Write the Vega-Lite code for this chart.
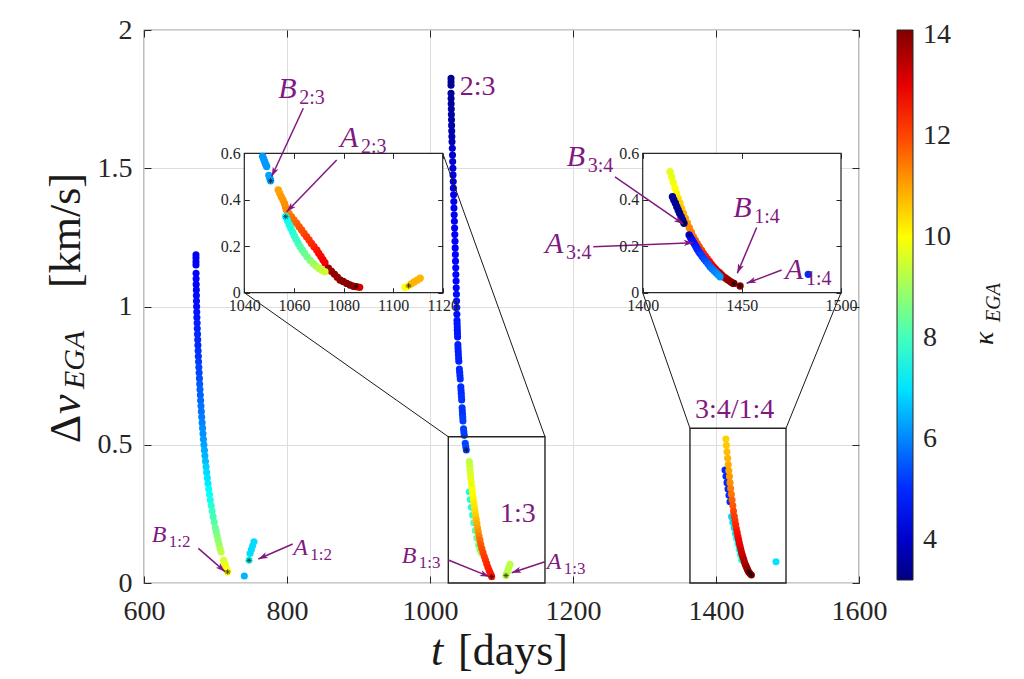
{
"$schema": "https://vega.github.io/schema/vega-lite/v6.json",
"width": 715,
"height": 553,
"autosize": {"type": "none"},
"padding": {"left": 144, "top": 30, "right": 165, "bottom": 96},
"background": "white",
"config": {
  "font": "'Liberation Serif', 'Times New Roman', Tinos, 'DejaVu Serif', serif",
  "view": {"stroke": "#262626", "strokeWidth": 1.2},
  "axis": {"labelFont": "'Liberation Serif', 'Times New Roman', Tinos, 'DejaVu Serif', serif", "labelColor": "#262626", "tickColor": "#262626", "labelFlush": false, "labelOverlap": false, "domain": false},
  "legend": {"labelFont": "'Liberation Serif', 'Times New Roman', Tinos, 'DejaVu Serif', serif", "labelColor": "#262626"},
  "text": {"font": "'Liberation Serif', 'Times New Roman', Tinos, 'DejaVu Serif', serif"}
},
"datasets": {
  "main": [
    {"t":672.7,"dv":1.187,"k":4.5},{"t":672.7,"dv":1.175,"k":4.5},{"t":672.7,"dv":1.162,"k":4.5},{"t":672.7,"dv":1.15,"k":4.5},
    {"t":672.8,"dv":1.12,"k":4.6},{"t":672.9,"dv":1.1,"k":4.6},{"t":673.0,"dv":1.08,"k":4.6},{"t":673.2,"dv":1.06,"k":4.6},{"t":673.3,"dv":1.04,"k":4.7},{"t":673.4,"dv":1.02,"k":4.7},{"t":673.6,"dv":1.0,"k":4.7},{"t":673.8,"dv":0.98,"k":4.8},{"t":674.0,"dv":0.96,"k":4.8},{"t":674.3,"dv":0.94,"k":4.9},{"t":674.5,"dv":0.92,"k":4.9},{"t":674.8,"dv":0.9,"k":5.0},{"t":675.1,"dv":0.88,"k":5.0},{"t":675.4,"dv":0.86,"k":5.0},{"t":675.7,"dv":0.84,"k":5.1},{"t":676.0,"dv":0.82,"k":5.1},{"t":676.3,"dv":0.8,"k":5.2},{"t":676.7,"dv":0.78,"k":5.3},{"t":677.1,"dv":0.76,"k":5.3},{"t":677.5,"dv":0.74,"k":5.4},{"t":677.9,"dv":0.72,"k":5.5},{"t":678.3,"dv":0.7,"k":5.6},{"t":678.8,"dv":0.68,"k":5.6},{"t":679.2,"dv":0.66,"k":5.7},{"t":679.7,"dv":0.64,"k":5.8},{"t":680.2,"dv":0.62,"k":5.8},{"t":680.7,"dv":0.6,"k":5.9},{"t":681.3,"dv":0.58,"k":6.0},{"t":681.9,"dv":0.56,"k":6.1},{"t":682.5,"dv":0.54,"k":6.1},{"t":683.1,"dv":0.52,"k":6.2},{"t":683.8,"dv":0.5,"k":6.3},{"t":684.5,"dv":0.48,"k":6.4},{"t":685.2,"dv":0.46,"k":6.5},{"t":686.0,"dv":0.44,"k":6.6},{"t":686.8,"dv":0.42,"k":6.8},{"t":687.6,"dv":0.4,"k":6.9},{"t":688.6,"dv":0.38,"k":7.0},{"t":689.5,"dv":0.36,"k":7.1},{"t":690.5,"dv":0.34,"k":7.3},{"t":691.6,"dv":0.32,"k":7.4},{"t":692.7,"dv":0.3,"k":7.5},{"t":694.0,"dv":0.28,"k":7.7},{"t":695.3,"dv":0.26,"k":7.9},{"t":696.7,"dv":0.24,"k":8.0},{"t":698.2,"dv":0.22,"k":8.2},{"t":699.8,"dv":0.2,"k":8.4},{"t":701.0,"dv":0.185,"k":8.5},{"t":702.3,"dv":0.17,"k":8.7},{"t":703.5,"dv":0.155,"k":8.8},{"t":705.0,"dv":0.14,"k":8.9},{"t":706.3,"dv":0.126,"k":9.1},{"t":707.8,"dv":0.112,"k":9.3},
    {"t":711.3,"dv":0.082,"k":9.6},{"t":712.7,"dv":0.071,"k":9.7},{"t":714.1,"dv":0.061,"k":9.8},{"t":715.6,"dv":0.05,"k":9.9},{"t":717.0,"dv":0.04,"k":10.0},
    {"t":753.8,"dv":0.149,"k":6.9},{"t":752.0,"dv":0.135,"k":6.9},{"t":750.2,"dv":0.121,"k":6.9},{"t":748.3,"dv":0.107,"k":6.9},{"t":746.9,"dv":0.082,"k":7.4},{"t":740.3,"dv":0.025,"k":6.5},
    {"t":1029.4,"dv":1.825,"k":3.4},{"t":1029.4,"dv":1.812,"k":3.4},{"t":1029.4,"dv":1.8,"k":3.4},
    {"t":1029.4,"dv":1.771,"k":3.5},{"t":1029.5,"dv":1.752,"k":3.5},{"t":1029.6,"dv":1.733,"k":3.5},{"t":1029.8,"dv":1.714,"k":3.6},{"t":1029.9,"dv":1.694,"k":3.6},{"t":1030.1,"dv":1.675,"k":3.6},{"t":1030.2,"dv":1.655,"k":3.7},{"t":1030.4,"dv":1.635,"k":3.7},{"t":1030.6,"dv":1.615,"k":3.7},{"t":1030.8,"dv":1.596,"k":3.8},
    {"t":1031.2,"dv":1.572,"k":4.0},{"t":1031.5,"dv":1.548,"k":4.0},{"t":1031.7,"dv":1.524,"k":4.1},{"t":1032.0,"dv":1.5,"k":4.1},{"t":1032.2,"dv":1.476,"k":4.2},{"t":1032.5,"dv":1.452,"k":4.2},{"t":1032.7,"dv":1.428,"k":4.2},{"t":1033.0,"dv":1.404,"k":4.3},{"t":1033.3,"dv":1.38,"k":4.3},{"t":1033.5,"dv":1.356,"k":4.4},{"t":1033.8,"dv":1.332,"k":4.4},{"t":1034.1,"dv":1.308,"k":4.4},{"t":1034.4,"dv":1.284,"k":4.5},{"t":1034.7,"dv":1.26,"k":4.5},{"t":1035.0,"dv":1.236,"k":4.5},{"t":1035.2,"dv":1.212,"k":4.5},{"t":1035.5,"dv":1.188,"k":4.6},{"t":1035.7,"dv":1.164,"k":4.6},{"t":1036.0,"dv":1.14,"k":4.6},{"t":1036.2,"dv":1.116,"k":4.6},{"t":1036.5,"dv":1.092,"k":4.6},{"t":1036.7,"dv":1.068,"k":4.6},{"t":1037.0,"dv":1.044,"k":4.7},{"t":1037.2,"dv":1.02,"k":4.7},{"t":1037.4,"dv":0.996,"k":4.7},{"t":1037.6,"dv":0.972,"k":4.7},
    {"t":1037.8,"dv":0.95,"k":4.8},{"t":1037.9,"dv":0.938,"k":4.8},{"t":1038.1,"dv":0.926,"k":4.8},{"t":1038.2,"dv":0.914,"k":4.8},{"t":1038.4,"dv":0.902,"k":4.8},{"t":1038.6,"dv":0.89,"k":4.8},
    {"t":1039.0,"dv":0.862,"k":4.9},{"t":1039.2,"dv":0.85,"k":4.9},{"t":1039.4,"dv":0.838,"k":4.9},{"t":1039.7,"dv":0.826,"k":4.9},{"t":1040.0,"dv":0.814,"k":4.9},{"t":1040.3,"dv":0.802,"k":4.9},
    {"t":1041.1,"dv":0.774,"k":5.0},{"t":1041.5,"dv":0.762,"k":5.0},{"t":1041.9,"dv":0.75,"k":5.0},{"t":1042.3,"dv":0.738,"k":5.0},
    {"t":1043.1,"dv":0.71,"k":5.0},{"t":1043.4,"dv":0.698,"k":5.0},{"t":1043.7,"dv":0.686,"k":5.0},{"t":1044.0,"dv":0.674,"k":5.1},{"t":1044.3,"dv":0.662,"k":5.1},
    {"t":1044.9,"dv":0.634,"k":5.1},{"t":1045.2,"dv":0.622,"k":5.1},{"t":1045.5,"dv":0.61,"k":5.1},{"t":1045.8,"dv":0.598,"k":5.2},{"t":1046.1,"dv":0.586,"k":5.2},
    {"t":1046.9,"dv":0.558,"k":5.2},{"t":1047.4,"dv":0.546,"k":5.2},{"t":1047.9,"dv":0.534,"k":5.2},
    {"t":1049.3,"dv":0.505,"k":5.3},{"t":1050.0,"dv":0.493,"k":5.3},{"t":1050.8,"dv":0.481,"k":5.3},
    {"t":1055.0,"dv":0.33,"k":7.4},{"t":1056.4,"dv":0.302,"k":7.5},{"t":1057.9,"dv":0.274,"k":7.6},{"t":1059.5,"dv":0.246,"k":7.8},{"t":1061.3,"dv":0.218,"k":8.0},{"t":1063.3,"dv":0.19,"k":8.2},{"t":1065.5,"dv":0.163,"k":8.4},{"t":1067.9,"dv":0.137,"k":8.6},{"t":1070.0,"dv":0.12,"k":8.8},{"t":1072.3,"dv":0.108,"k":9.0},
    {"t":1055.0,"dv":0.439,"k":9.3},{"t":1055.5,"dv":0.425,"k":9.4},{"t":1056.0,"dv":0.41,"k":9.5},{"t":1056.5,"dv":0.395,"k":9.6},{"t":1057.1,"dv":0.38,"k":9.7},{"t":1057.7,"dv":0.365,"k":9.8},{"t":1058.3,"dv":0.35,"k":9.9},{"t":1059.0,"dv":0.335,"k":10.0},{"t":1059.7,"dv":0.32,"k":10.0},{"t":1060.5,"dv":0.305,"k":10.1},{"t":1061.3,"dv":0.29,"k":10.2},{"t":1062.1,"dv":0.275,"k":10.3},{"t":1062.9,"dv":0.26,"k":10.4},{"t":1063.8,"dv":0.245,"k":10.5},{"t":1064.7,"dv":0.23,"k":10.7},{"t":1065.6,"dv":0.215,"k":10.9},{"t":1066.5,"dv":0.2,"k":11.0},{"t":1067.5,"dv":0.185,"k":11.2},{"t":1068.6,"dv":0.17,"k":11.4},{"t":1069.8,"dv":0.155,"k":11.6},{"t":1071.0,"dv":0.14,"k":11.8},{"t":1072.5,"dv":0.125,"k":11.9},{"t":1074.2,"dv":0.11,"k":12.0},{"t":1075.9,"dv":0.096,"k":12.1},{"t":1077.6,"dv":0.083,"k":12.2},{"t":1079.3,"dv":0.07,"k":12.3},{"t":1080.9,"dv":0.058,"k":12.4},{"t":1082.5,"dv":0.047,"k":12.4},{"t":1084.1,"dv":0.037,"k":12.5},{"t":1085.4,"dv":0.029,"k":12.5},{"t":1086.3,"dv":0.023,"k":12.5},
    {"t":1106.3,"dv":0.027,"k":9.3},{"t":1107.7,"dv":0.037,"k":9.3},{"t":1109.1,"dv":0.047,"k":9.3},{"t":1110.5,"dv":0.058,"k":9.3},{"t":1111.9,"dv":0.068,"k":9.3},
    {"t":1412.6,"dv":0.409,"k":5.0},{"t":1414.0,"dv":0.386,"k":5.0},{"t":1415.4,"dv":0.363,"k":5.0},{"t":1416.8,"dv":0.34,"k":5.0},{"t":1418.2,"dv":0.317,"k":5.0},{"t":1419.6,"dv":0.294,"k":5.0},
    {"t":1421.9,"dv":0.24,"k":6.8},{"t":1423.6,"dv":0.22,"k":6.9},{"t":1425.4,"dv":0.2,"k":7.0},{"t":1427.1,"dv":0.18,"k":7.1},{"t":1428.9,"dv":0.161,"k":7.2},{"t":1430.7,"dv":0.142,"k":7.3},{"t":1432.4,"dv":0.122,"k":7.4},{"t":1434.2,"dv":0.102,"k":7.5},{"t":1435.9,"dv":0.083,"k":7.6},
    {"t":1413.8,"dv":0.521,"k":10.5},{"t":1414.6,"dv":0.498,"k":10.6},{"t":1415.4,"dv":0.475,"k":10.7},{"t":1416.3,"dv":0.451,"k":10.8},{"t":1417.1,"dv":0.428,"k":10.9},{"t":1417.9,"dv":0.406,"k":11.0},{"t":1418.8,"dv":0.385,"k":11.1},{"t":1419.6,"dv":0.363,"k":11.2},{"t":1420.5,"dv":0.342,"k":11.4},{"t":1421.5,"dv":0.321,"k":11.5},{"t":1422.5,"dv":0.3,"k":11.7},{"t":1423.5,"dv":0.28,"k":11.8},{"t":1424.5,"dv":0.26,"k":12.0},{"t":1425.5,"dv":0.241,"k":12.1},{"t":1426.5,"dv":0.226,"k":12.2},{"t":1427.5,"dv":0.211,"k":12.3},{"t":1428.5,"dv":0.197,"k":12.4},{"t":1429.6,"dv":0.183,"k":12.6},{"t":1430.6,"dv":0.169,"k":12.7},{"t":1431.6,"dv":0.157,"k":12.8},{"t":1432.6,"dv":0.145,"k":12.9},{"t":1433.6,"dv":0.134,"k":13.0},{"t":1434.6,"dv":0.123,"k":13.1},{"t":1435.6,"dv":0.112,"k":13.2},{"t":1436.6,"dv":0.103,"k":13.3},{"t":1437.6,"dv":0.094,"k":13.4},{"t":1438.7,"dv":0.086,"k":13.5},{"t":1439.7,"dv":0.077,"k":13.5},{"t":1440.7,"dv":0.069,"k":13.6},{"t":1441.7,"dv":0.063,"k":13.7},{"t":1442.7,"dv":0.057,"k":13.8},{"t":1443.7,"dv":0.051,"k":13.9},{"t":1444.7,"dv":0.045,"k":13.9},{"t":1445.7,"dv":0.04,"k":14.0},{"t":1447.5,"dv":0.034,"k":14.0},{"t":1449.5,"dv":0.029,"k":14.0},
    {"t":1483.9,"dv":0.077,"k":7.0}
  ],
  "starsMain": [
    {"t":717.0,"dv":0.04},{"t":746.9,"dv":0.082},{"t":1050.8,"dv":0.481},{"t":1086.3,"dv":0.023},{"t":1106.3,"dv":0.027},{"t":1446.0,"dv":0.04},{"t":1449.5,"dv":0.029}
  ],
  "zoomA": [
    {"t":1047.4,"dv":0.586,"k":6.2},{"t":1047.8,"dv":0.575,"k":6.2},{"t":1048.2,"dv":0.564,"k":6.2},{"t":1048.6,"dv":0.553,"k":6.2},{"t":1049.0,"dv":0.543,"k":6.2},{"t":1049.9,"dv":0.505,"k":6.3},{"t":1050.3,"dv":0.493,"k":6.3},{"t":1050.6,"dv":0.482,"k":6.3},
    {"t":1053.7,"dv":0.442,"k":11.0},{"t":1054.3,"dv":0.428,"k":11.0},{"t":1054.9,"dv":0.413,"k":11.1},{"t":1055.6,"dv":0.399,"k":11.1},{"t":1056.2,"dv":0.384,"k":11.2},{"t":1056.6,"dv":0.37,"k":11.2},{"t":1057.0,"dv":0.356,"k":11.3},{"t":1058.0,"dv":0.341,"k":11.4},{"t":1059.0,"dv":0.327,"k":11.5},{"t":1060.0,"dv":0.313,"k":11.6},{"t":1061.1,"dv":0.299,"k":11.7},{"t":1062.1,"dv":0.284,"k":11.8},{"t":1063.1,"dv":0.27,"k":11.9},{"t":1064.1,"dv":0.255,"k":12.0},{"t":1065.1,"dv":0.241,"k":12.1},{"t":1066.1,"dv":0.227,"k":12.2},{"t":1067.1,"dv":0.212,"k":12.3},{"t":1068.1,"dv":0.198,"k":12.4},{"t":1069.2,"dv":0.184,"k":12.5},{"t":1070.0,"dv":0.17,"k":12.6},{"t":1070.9,"dv":0.156,"k":12.7},{"t":1071.7,"dv":0.142,"k":12.8},{"t":1072.5,"dv":0.129,"k":12.9},
    {"t":1073.9,"dv":0.105,"k":13.8},{"t":1075.1,"dv":0.092,"k":13.8},{"t":1076.3,"dv":0.08,"k":13.9},{"t":1077.5,"dv":0.067,"k":13.9},{"t":1078.6,"dv":0.055,"k":13.9},{"t":1079.9,"dv":0.048,"k":14.0},{"t":1081.3,"dv":0.04,"k":14.0},{"t":1082.6,"dv":0.033,"k":14.0},{"t":1084.0,"dv":0.028,"k":14.0},{"t":1085.3,"dv":0.026,"k":13.8},{"t":1086.5,"dv":0.023,"k":13.2},
    {"t":1056.7,"dv":0.327,"k":7.3},{"t":1057.4,"dv":0.31,"k":7.4},{"t":1058.1,"dv":0.293,"k":7.5},{"t":1058.8,"dv":0.276,"k":7.6},{"t":1059.5,"dv":0.26,"k":7.7},{"t":1060.2,"dv":0.244,"k":7.8},{"t":1060.9,"dv":0.229,"k":7.9},{"t":1061.7,"dv":0.213,"k":8.0},{"t":1062.5,"dv":0.198,"k":8.1},{"t":1063.4,"dv":0.184,"k":8.3},{"t":1064.3,"dv":0.17,"k":8.4},{"t":1065.3,"dv":0.155,"k":8.5},{"t":1066.5,"dv":0.14,"k":8.7},{"t":1067.8,"dv":0.126,"k":8.9},{"t":1068.9,"dv":0.115,"k":9.1},{"t":1070.0,"dv":0.105,"k":9.2},{"t":1071.3,"dv":0.097,"k":9.4},{"t":1072.5,"dv":0.09,"k":9.5},
    {"t":1104.8,"dv":0.023,"k":10.0},{"t":1106.2,"dv":0.029,"k":10.0},{"t":1107.3,"dv":0.038,"k":10.8},{"t":1108.5,"dv":0.046,"k":10.8},{"t":1109.7,"dv":0.054,"k":10.8},{"t":1110.9,"dv":0.062,"k":10.8}
  ],
  "starsA": [
    {"t":1050.6,"dv":0.482},{"t":1056.7,"dv":0.327},{"t":1085.3,"dv":0.026},{"t":1106.2,"dv":0.029}
  ],
  "zoomB": [
    {"t":1413.8,"dv":0.521,"k":9.7},{"t":1414.6,"dv":0.498,"k":9.8},{"t":1415.4,"dv":0.475,"k":9.9},{"t":1416.3,"dv":0.451,"k":10.0},{"t":1417.1,"dv":0.428,"k":10.1},{"t":1417.9,"dv":0.406,"k":10.3},{"t":1418.8,"dv":0.385,"k":10.5},{"t":1419.6,"dv":0.363,"k":10.6},{"t":1420.5,"dv":0.342,"k":10.8},{"t":1421.5,"dv":0.321,"k":11.0},{"t":1422.5,"dv":0.3,"k":11.1},{"t":1423.5,"dv":0.28,"k":11.3},{"t":1424.5,"dv":0.26,"k":11.4},{"t":1425.5,"dv":0.241,"k":11.5},{"t":1426.5,"dv":0.226,"k":11.7},{"t":1427.5,"dv":0.211,"k":11.8},{"t":1428.5,"dv":0.197,"k":12.0},{"t":1429.6,"dv":0.183,"k":12.1},{"t":1430.6,"dv":0.169,"k":12.3},{"t":1431.6,"dv":0.157,"k":12.4},{"t":1432.6,"dv":0.145,"k":12.5},{"t":1433.6,"dv":0.134,"k":12.7},{"t":1434.6,"dv":0.123,"k":12.8},{"t":1435.6,"dv":0.112,"k":13.0},{"t":1436.6,"dv":0.103,"k":13.1},{"t":1437.6,"dv":0.094,"k":13.2},{"t":1438.7,"dv":0.086,"k":13.4},{"t":1439.7,"dv":0.077,"k":13.5},{"t":1440.7,"dv":0.069,"k":13.6},{"t":1441.7,"dv":0.063,"k":13.7},{"t":1442.7,"dv":0.057,"k":13.8},{"t":1443.7,"dv":0.051,"k":13.9},{"t":1444.7,"dv":0.045,"k":14.0},{"t":1445.7,"dv":0.04,"k":14.0},
    {"t":1415.0,"dv":0.413,"k":3.4},{"t":1415.7,"dv":0.399,"k":3.4},{"t":1416.5,"dv":0.385,"k":3.4},{"t":1417.2,"dv":0.37,"k":3.4},{"t":1417.9,"dv":0.356,"k":3.4},{"t":1418.6,"dv":0.342,"k":3.4},{"t":1419.4,"dv":0.327,"k":3.4},{"t":1420.1,"dv":0.313,"k":3.4},{"t":1420.8,"dv":0.299,"k":3.4},
    {"t":1423.4,"dv":0.248,"k":4.5},{"t":1424.1,"dv":0.238,"k":4.6},{"t":1424.8,"dv":0.228,"k":4.6},{"t":1425.5,"dv":0.218,"k":4.7},{"t":1426.2,"dv":0.208,"k":4.7},{"t":1426.9,"dv":0.198,"k":4.8},{"t":1427.5,"dv":0.188,"k":4.9},{"t":1428.2,"dv":0.178,"k":5.0},{"t":1428.9,"dv":0.169,"k":5.1},{"t":1429.9,"dv":0.157,"k":5.2},{"t":1430.9,"dv":0.146,"k":5.3},{"t":1431.9,"dv":0.135,"k":5.4},{"t":1433.0,"dv":0.123,"k":5.6},{"t":1434.0,"dv":0.112,"k":5.7},{"t":1435.0,"dv":0.103,"k":5.8},{"t":1436.0,"dv":0.094,"k":5.9},{"t":1437.0,"dv":0.086,"k":6.0},{"t":1438.0,"dv":0.077,"k":6.1},{"t":1439.0,"dv":0.069,"k":6.2},
    {"t":1446.0,"dv":0.04,"k":14.0},{"t":1449.1,"dv":0.029,"k":13.9},
    {"t":1483.5,"dv":0.079,"k":5.0}
  ],
  "starsB": [
    {"t":1420.8,"dv":0.299},{"t":1423.4,"dv":0.248},{"t":1446.0,"dv":0.04},{"t":1449.1,"dv":0.029}
  ],
  "links": [
    {"t1":740.3,"v1":1.05,"t2":1025.6,"v2":0.529},
    {"t1":1017.8,"v1":1.554,"t2":1160.8,"v2":0.529},
    {"t1":1297.5,"v1":1.05,"t2":1363.6,"v2":0.5595},
    {"t1":1574.8,"v1":1.05,"t2":1497.9,"v2":0.5595}
  ],
  "boxes": [
    {"t1":1025.6,"v1":0,"t2":1160.8,"v2":0.529},
    {"t1":1363.6,"v1":0,"t2":1497.9,"v2":0.5595}
  ],
  "arrows": [
    {"t1":676.0,"v1":0.125,"t2":713.3,"v2":0.041,"ang":131},
    {"t1":808.0,"v1":0.141,"t2":759.9,"v2":0.087,"ang":246},
    {"t1":1025.6,"v1":0.083,"t2":1083.0,"v2":0.023,"ang":112},
    {"t1":1160.8,"v1":0.077,"t2":1114.3,"v2":0.037,"ang":252},
    {"t1":822.8,"v1":1.717,"t2":778.6,"v2":1.47,"ang":205},
    {"t1":869.5,"v1":1.53,"t2":799.6,"v2":1.343,"ang":224},
    {"t1":1258.7,"v1":1.469,"t2":1354.3,"v2":1.298,"ang":125},
    {"t1":1228.4,"v1":1.216,"t2":1368.3,"v2":1.231,"ang":88},
    {"t1":1456.9,"v1":1.286,"t2":1429.8,"v2":1.12,"ang":203},
    {"t1":1491.8,"v1":1.132,"t2":1442.9,"v2":1.084,"ang":249}
  ],
  "lblLg": [
    {"t":787.8,"dv":1.753,"m":"B","s":"2:3"},
    {"t":874.1,"dv":1.578,"m":"A","s":"2:3"},
    {"t":1191.2,"dv":1.508,"m":"B","s":"3:4"},
    {"t":1160.8,"dv":1.192,"m":"A","s":"3:4"},
    {"t":1424.2,"dv":1.325,"m":"B","s":"1:4"},
    {"t":1496.5,"dv":1.098,"m":"A","s":"1:4"}
  ],
  "lblSm": [
    {"t":610.8,"dv":0.149,"m":"B","s":"1:2"},
    {"t":808.8,"dv":0.101,"m":"A","s":"1:2"},
    {"t":960.4,"dv":0.073,"m":"B","s":"1:3"},
    {"t":1163.2,"dv":0.05,"m":"A","s":"1:3"}
  ],
  "tags": [
    {"t":1041.7,"dv":1.765,"s":"2:3"},
    {"t":1097.9,"dv":0.221,"s":"1:3"},
    {"t":1370.6,"dv":0.597,"s":"3:4/1:4"}
  ]
},
"resolve": {"scale": {"x": "independent", "y": "independent"}, "axis": {"x": "independent", "y": "independent"}},
"layer": [
  {
    "resolve": {"axis": {"x": "independent", "y": "independent"}},
    "layer": [
      {
        "data": {"name": "main"},
        "mark": {"type": "point", "shape": "circle", "filled": true, "size": 50, "opacity": 1, "strokeWidth": 0},
        "encoding": {
          "x": {"field": "t", "type": "quantitative", "scale": {"domain": [600, 1600], "nice": false, "zero": false},
                "axis": {"orient": "bottom", "values": [600, 800, 1000, 1200, 1400, 1600], "format": "d", "grid": true, "gridColor": "#dedede", "gridWidth": 1, "tickSize": -7, "labelFontSize": 28, "labelPadding": 21, "title": null}},
          "y": {"field": "dv", "type": "quantitative", "scale": {"domain": [0, 2], "nice": false, "zero": false},
                "axis": {"orient": "left", "values": [0, 0.5, 1, 1.5, 2], "format": "~g", "grid": true, "gridColor": "#dedede", "gridWidth": 1, "tickSize": -7, "labelFontSize": 28, "labelPadding": 19, "title": null}},
          "color": {"field": "k", "type": "quantitative",
                    "scale": {"type": "linear", "domain": [3.2, 4.5625, 7.2875, 10.0125, 12.7375, 14.1], "range": ["#000080", "#0000ff", "#00ffff", "#ffff00", "#ff0000", "#800000"], "interpolate": "rgb", "clamp": true},
                    "legend": {"orient": "none", "legendX": 753, "legendY": 0, "direction": "vertical", "gradientLength": 550, "gradientThickness": 16, "title": null, "values": [4, 6, 8, 10, 12, 14], "labelFontSize": 28, "labelOffset": 10, "gradientStrokeColor": "#262626", "gradientStrokeWidth": 1, "padding": 0}}
        }
      },
      {
        "data": {"name": "starsMain"},
        "mark": {"type": "point", "shape": "M-1,0L1,0M0,-1L0,1M-0.7,-0.7L0.7,0.7M-0.7,0.7L0.7,-0.7", "filled": false, "color": "#000000", "size": 30, "strokeWidth": 0.9},
        "encoding": {
          "x": {"field": "t", "type": "quantitative", "scale": {"domain": [600, 1600], "nice": false, "zero": false},
                "axis": {"orient": "top", "values": [600, 800, 1000, 1200, 1400, 1600], "labels": false, "grid": false, "tickSize": -7, "title": null}},
          "y": {"field": "dv", "type": "quantitative", "scale": {"domain": [0, 2], "nice": false, "zero": false},
                "axis": {"orient": "right", "values": [0, 0.5, 1, 1.5, 2], "labels": false, "grid": false, "tickSize": -7, "title": null}}
        }
      },
      {
        "data": {"name": "links"},
        "mark": {"type": "rule", "color": "#1a1a1a", "strokeWidth": 1},
        "encoding": {
          "x": {"field": "t1", "type": "quantitative", "scale": {"domain": [600, 1600], "nice": false, "zero": false}, "axis": null},
          "y": {"field": "v1", "type": "quantitative", "scale": {"domain": [0, 2], "nice": false, "zero": false}, "axis": null},
          "x2": {"field": "t2"},
          "y2": {"field": "v2"}
        }
      },
      {
        "data": {"name": "boxes"},
        "mark": {"type": "rect", "filled": false, "color": "#262626", "strokeWidth": 1.4},
        "encoding": {
          "x": {"field": "t1", "type": "quantitative", "scale": {"domain": [600, 1600], "nice": false, "zero": false}, "axis": null},
          "y": {"field": "v1", "type": "quantitative", "scale": {"domain": [0, 2], "nice": false, "zero": false}, "axis": null},
          "x2": {"field": "t2"},
          "y2": {"field": "v2"}
        }
      }
    ]
  },
  {
    "resolve": {"axis": {"x": "independent", "y": "independent"}},
    "layer": [
      {
        "data": {"values": [{}]},
        "mark": {"type": "rect", "fill": "white", "stroke": "#262626", "strokeWidth": 1.2},
        "encoding": {
          "x": {"datum": 1040, "type": "quantitative", "scale": {"domain": [1040, 1120], "range": [100.3, 298.7], "nice": false, "zero": false},
                "axis": {"orient": "bottom", "offset": -290.3, "values": [1040, 1060, 1080, 1100, 1120], "format": "d", "grid": false, "tickSize": -5, "labelFontSize": 16, "labelPadding": 10, "title": null, "zindex": 1}},
          "x2": {"datum": 1120},
          "y": {"datum": 0, "type": "quantitative", "scale": {"domain": [0, 0.6], "range": [262.7, 123.3], "nice": false, "zero": false},
                "axis": {"orient": "left", "offset": -100.3, "values": [0, 0.2, 0.4, 0.6], "format": "~g", "grid": false, "tickSize": -5, "labelFontSize": 16, "labelPadding": 9, "title": null, "zindex": 1}},
          "y2": {"datum": 0.6}
        }
      },
      {
        "data": {"name": "zoomA"},
        "mark": {"type": "point", "shape": "circle", "filled": true, "size": 55, "opacity": 1, "strokeWidth": 0},
        "encoding": {
          "x": {"field": "t", "type": "quantitative", "scale": {"domain": [1040, 1120], "range": [100.3, 298.7], "nice": false, "zero": false},
                "axis": {"orient": "top", "offset": -123.3, "values": [1040, 1060, 1080, 1100, 1120], "labels": false, "grid": false, "tickSize": -5, "title": null, "zindex": 1}},
          "y": {"field": "dv", "type": "quantitative", "scale": {"domain": [0, 0.6], "range": [262.7, 123.3], "nice": false, "zero": false},
                "axis": {"orient": "right", "offset": -416.3, "values": [0, 0.2, 0.4, 0.6], "labels": false, "grid": false, "tickSize": -5, "title": null, "zindex": 1}},
          "color": {"field": "k", "type": "quantitative",
                    "scale": {"type": "linear", "domain": [3.2, 4.5625, 7.2875, 10.0125, 12.7375, 14.1], "range": ["#000080", "#0000ff", "#00ffff", "#ffff00", "#ff0000", "#800000"], "interpolate": "rgb", "clamp": true},
                    "legend": {"orient": "none", "legendX": 753, "legendY": 0, "direction": "vertical", "gradientLength": 550, "gradientThickness": 16, "title": null, "values": [4, 6, 8, 10, 12, 14], "labelFontSize": 28, "labelOffset": 10, "gradientStrokeColor": "#262626", "gradientStrokeWidth": 1, "padding": 0}}
        }
      },
      {
        "data": {"name": "starsA"},
        "mark": {"type": "point", "shape": "M-1,0L1,0M0,-1L0,1M-0.7,-0.7L0.7,0.7M-0.7,0.7L0.7,-0.7", "filled": false, "color": "#000000", "size": 30, "strokeWidth": 0.9},
        "encoding": {
          "x": {"field": "t", "type": "quantitative", "scale": {"domain": [1040, 1120], "range": [100.3, 298.7], "nice": false, "zero": false}, "axis": null},
          "y": {"field": "dv", "type": "quantitative", "scale": {"domain": [0, 0.6], "range": [262.7, 123.3], "nice": false, "zero": false}, "axis": null}
        }
      }
    ]
  },
  {
    "resolve": {"axis": {"x": "independent", "y": "independent"}},
    "layer": [
      {
        "data": {"values": [{}]},
        "mark": {"type": "rect", "fill": "white", "stroke": "#262626", "strokeWidth": 1.2},
        "encoding": {
          "x": {"datum": 1400, "type": "quantitative", "scale": {"domain": [1400, 1500], "range": [498.7, 697], "nice": false, "zero": false},
                "axis": {"orient": "bottom", "offset": -290.3, "values": [1400, 1450, 1500], "format": "d", "grid": false, "tickSize": -5, "labelFontSize": 16, "labelPadding": 10, "title": null, "zindex": 1}},
          "x2": {"datum": 1500},
          "y": {"datum": 0, "type": "quantitative", "scale": {"domain": [0, 0.6], "range": [262.7, 123.3], "nice": false, "zero": false},
                "axis": {"orient": "left", "offset": -498.7, "values": [0, 0.2, 0.4, 0.6], "format": "~g", "grid": false, "tickSize": -5, "labelFontSize": 16, "labelPadding": 9, "title": null, "zindex": 1}},
          "y2": {"datum": 0.6}
        }
      },
      {
        "data": {"name": "zoomB"},
        "mark": {"type": "point", "shape": "circle", "filled": true, "size": 55, "opacity": 1, "strokeWidth": 0},
        "encoding": {
          "x": {"field": "t", "type": "quantitative", "scale": {"domain": [1400, 1500], "range": [498.7, 697], "nice": false, "zero": false},
                "axis": {"orient": "top", "offset": -123.3, "values": [1400, 1450, 1500], "labels": false, "grid": false, "tickSize": -5, "title": null, "zindex": 1}},
          "y": {"field": "dv", "type": "quantitative", "scale": {"domain": [0, 0.6], "range": [262.7, 123.3], "nice": false, "zero": false},
                "axis": {"orient": "right", "offset": -18, "values": [0, 0.2, 0.4, 0.6], "labels": false, "grid": false, "tickSize": -5, "title": null, "zindex": 1}},
          "color": {"field": "k", "type": "quantitative",
                    "scale": {"type": "linear", "domain": [3.2, 4.5625, 7.2875, 10.0125, 12.7375, 14.1], "range": ["#000080", "#0000ff", "#00ffff", "#ffff00", "#ff0000", "#800000"], "interpolate": "rgb", "clamp": true},
                    "legend": {"orient": "none", "legendX": 753, "legendY": 0, "direction": "vertical", "gradientLength": 550, "gradientThickness": 16, "title": null, "values": [4, 6, 8, 10, 12, 14], "labelFontSize": 28, "labelOffset": 10, "gradientStrokeColor": "#262626", "gradientStrokeWidth": 1, "padding": 0}}
        }
      },
      {
        "data": {"name": "starsB"},
        "mark": {"type": "point", "shape": "M-1,0L1,0M0,-1L0,1M-0.7,-0.7L0.7,0.7M-0.7,0.7L0.7,-0.7", "filled": false, "color": "#000000", "size": 30, "strokeWidth": 0.9},
        "encoding": {
          "x": {"field": "t", "type": "quantitative", "scale": {"domain": [1400, 1500], "range": [498.7, 697], "nice": false, "zero": false}, "axis": null},
          "y": {"field": "dv", "type": "quantitative", "scale": {"domain": [0, 0.6], "range": [262.7, 123.3], "nice": false, "zero": false}, "axis": null}
        }
      }
    ]
  },
  {
    "encoding": {
      "x": {"type": "quantitative", "scale": {"domain": [600, 1600], "nice": false, "zero": false}, "axis": null},
      "y": {"type": "quantitative", "scale": {"domain": [0, 2], "nice": false, "zero": false}, "axis": null}
    },
    "layer": [
      {
        "data": {"name": "arrows"},
        "mark": {"type": "rule", "color": "#80197f", "strokeWidth": 1.5},
        "encoding": {"x": {"field": "t1"}, "y": {"field": "v1"}, "x2": {"field": "t2"}, "y2": {"field": "v2"}}
      },
      {
        "data": {"name": "arrows"},
        "mark": {"type": "point", "shape": "M0,0L0.6,1.8L0,1.35L-0.6,1.8Z", "filled": true, "color": "#80197f", "size": 110, "opacity": 1, "strokeWidth": 0},
        "encoding": {"x": {"field": "t2"}, "y": {"field": "v2"}, "angle": {"field": "ang", "type": "quantitative", "scale": null}}
      },
      {
        "data": {"name": "lblLg"},
        "mark": {"type": "text", "align": "left", "baseline": "alphabetic", "fontSize": 30, "fontStyle": "italic", "color": "#80197f"},
        "encoding": {"x": {"field": "t"}, "y": {"field": "dv"}, "text": {"field": "m"}}
      },
      {
        "data": {"name": "lblLg"},
        "mark": {"type": "text", "align": "left", "baseline": "alphabetic", "fontSize": 20, "dx": 21, "dy": 6, "color": "#80197f"},
        "encoding": {"x": {"field": "t"}, "y": {"field": "dv"}, "text": {"field": "s"}}
      },
      {
        "data": {"name": "lblSm"},
        "mark": {"type": "text", "align": "left", "baseline": "alphabetic", "fontSize": 24, "fontStyle": "italic", "color": "#80197f"},
        "encoding": {"x": {"field": "t"}, "y": {"field": "dv"}, "text": {"field": "m"}}
      },
      {
        "data": {"name": "lblSm"},
        "mark": {"type": "text", "align": "left", "baseline": "alphabetic", "fontSize": 17, "dx": 17, "dy": 5, "color": "#80197f"},
        "encoding": {"x": {"field": "t"}, "y": {"field": "dv"}, "text": {"field": "s"}}
      },
      {
        "data": {"name": "tags"},
        "mark": {"type": "text", "align": "left", "baseline": "alphabetic", "fontSize": 28, "color": "#80197f"},
        "encoding": {"x": {"field": "t"}, "y": {"field": "dv"}, "text": {"field": "s"}}
      },
      {
        "data": {"values": [{}]},
        "mark": {"type": "text", "text": "t", "align": "left", "baseline": "alphabetic", "fontSize": 44, "fontStyle": "italic", "color": "#1a1a1a"},
        "encoding": {"x": {"datum": 1001.4}, "y": {"datum": -0.2966}}
      },
      {
        "data": {"values": [{}]},
        "mark": {"type": "text", "text": "[days]", "align": "left", "baseline": "alphabetic", "fontSize": 44, "color": "#1a1a1a"},
        "encoding": {"x": {"datum": 1039.2}, "y": {"datum": -0.2966}}
      },
      {
        "data": {"values": [{}]},
        "mark": {"type": "text", "text": "Δ", "angle": 270, "align": "left", "baseline": "alphabetic", "fontSize": 44, "color": "#1a1a1a"},
        "encoding": {"x": {"datum": 510.5}, "y": {"datum": 0.505}}
      },
      {
        "data": {"values": [{}]},
        "mark": {"type": "text", "text": "v", "angle": 270, "align": "left", "baseline": "alphabetic", "fontSize": 44, "fontStyle": "italic", "color": "#1a1a1a"},
        "encoding": {"x": {"datum": 510.5}, "y": {"datum": 0.611}}
      },
      {
        "data": {"values": [{}]},
        "mark": {"type": "text", "text": "EGA", "angle": 270, "align": "left", "baseline": "alphabetic", "fontSize": 30, "fontStyle": "italic", "color": "#1a1a1a"},
        "encoding": {"x": {"datum": 516.1}, "y": {"datum": 0.7016}}
      },
      {
        "data": {"values": [{}]},
        "mark": {"type": "text", "text": "[km/s]", "angle": 270, "align": "left", "baseline": "alphabetic", "fontSize": 44, "color": "#1a1a1a"},
        "encoding": {"x": {"datum": 510.5}, "y": {"datum": 1.067}}
      },
      {
        "data": {"values": [{}]},
        "mark": {"type": "text", "text": "κ", "angle": 270, "align": "left", "baseline": "alphabetic", "fontSize": 28, "fontStyle": "italic", "color": "#1a1a1a"},
        "encoding": {"x": {"datum": 1787.4}, "y": {"datum": 0.861}}
      },
      {
        "data": {"values": [{}]},
        "mark": {"type": "text", "text": "EGA", "angle": 270, "align": "left", "baseline": "alphabetic", "fontSize": 20, "fontStyle": "italic", "color": "#1a1a1a"},
        "encoding": {"x": {"datum": 1797.2}, "y": {"datum": 0.944}}
      }
    ]
  }
]
}
